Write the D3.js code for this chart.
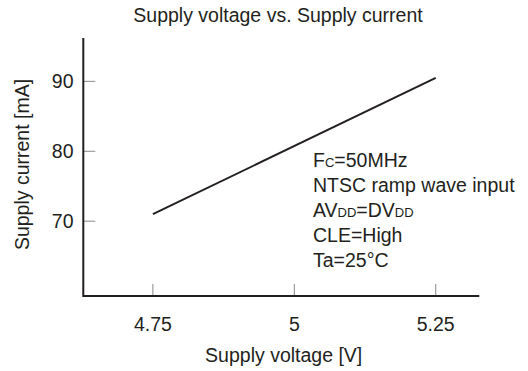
<!DOCTYPE html>
<html><head><meta charset="utf-8">
<script src="https://cdn.jsdelivr.net/npm/d3@7"></script>
<style>body{margin:0;background:#fff}svg{display:block}text{font-family:"Liberation Sans",Arial,sans-serif;fill:#231f20}</style>
</head><body>
<script>
const voltage = [4.75, 5.25];
const current = [71.0, 90.5];
const xTicks = [4.75, 5, 5.25];
const yTicks = [70, 80, 90];
const title = "Supply voltage vs. Supply current";
const xLabel = "Supply voltage [V]";
const yLabel = "Supply current [mA]";
const notes = [
  [["F",""],["C","s"],["=50MHz",""]],
  [["NTSC ramp wave input",""]],
  [["AV",""],["DD","s"],["=DV",""],["DD","s"]],
  [["CLE=High",""]],
  [["Ta=25°C",""]]
];

const W=528,H=371,FS=19.5;
const svg=d3.select("body").append("svg").attr("width",W).attr("height",H);
const x=d3.scaleLinear().domain([4.627,5.327]).range([83.3,479.3]);
const y=d3.scaleLinear().domain([59.3,96.2]).range([296,38]);

const g=svg.append("g");
g.selectAll(".xt").data(xTicks).join("line")
  .attr("x1",d=>x(d)).attr("x2",d=>x(d)).attr("y1",y.range()[0]).attr("y2",y.range()[0]-12)
  .attr("stroke","#888").attr("stroke-width",1);
g.selectAll(".yt").data(yTicks).join("line")
  .attr("y1",d=>y(d)).attr("y2",d=>y(d)).attr("x1",x.range()[0]).attr("x2",x.range()[0]+12)
  .attr("stroke","#888").attr("stroke-width",1);
svg.append("path").attr("d",`M${x.range()[0]},${y.range()[1]}V${y.range()[0]}H${x.range()[1]}`)
  .attr("fill","none").attr("stroke","#231f20").attr("stroke-width",2);
svg.selectAll(".xl").data(xTicks).join("text")
  .attr("x",d=>x(d)).attr("y",331).attr("text-anchor","middle").attr("font-size",FS)
  .text(d=>d3.format("")(d));
svg.selectAll(".yl").data(yTicks).join("text")
  .attr("x",73.5).attr("y",d=>y(d)+6.8).attr("text-anchor","end").attr("font-size",FS)
  .text(d=>d);
svg.append("path").datum(voltage.map((v,i)=>[v,current[i]]))
  .attr("d",d3.line().x(d=>x(d[0])).y(d=>y(d[1])))
  .attr("fill","none").attr("stroke","#231f20").attr("stroke-width",2);
svg.append("text").attr("x",278).attr("y",21.7).attr("text-anchor","middle").attr("font-size",FS).text(title);
svg.append("text").attr("x",283.7).attr("y",361.5).attr("text-anchor","middle").attr("font-size",FS).text(xLabel);
svg.append("text").attr("transform","translate(28.5,164.5) rotate(-90)").attr("text-anchor","middle").attr("font-size",FS).text(yLabel);
notes.forEach((ln,i)=>{
  const t=svg.append("text").attr("x",313).attr("y",166.7+i*25).attr("font-size",FS);
  ln.forEach(([s,k])=>t.append("tspan").attr("font-size",k?13:FS).text(s));
});
</script>
</body></html>
